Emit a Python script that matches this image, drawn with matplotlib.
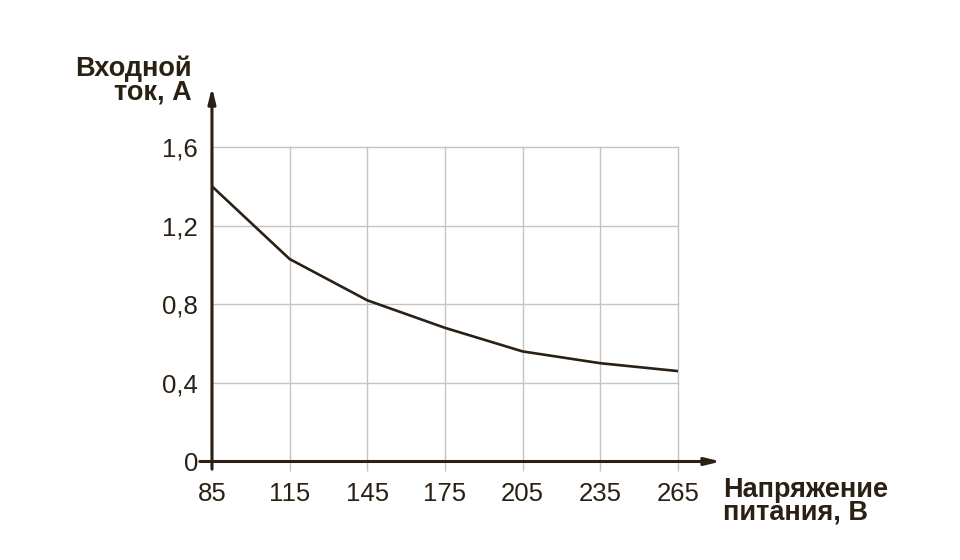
import matplotlib
matplotlib.use('Agg')
import matplotlib.pyplot as plt

# data
voltage = [85, 115, 145, 175, 205, 235, 265]
current = [1.40, 1.03, 0.82, 0.68, 0.56, 0.50, 0.46]
yticks = [0, 0.4, 0.8, 1.2, 1.6]
ytick_labels = ['0', '0,4', '0,8', '1,2', '1,6']
xlabel = 'Напряжение\nпитания, В'
ylabel = 'Входной\nток, А'

dark = '#2a2013'
grid_col = '#c4c4c4'
plt.rcParams['font.family'] = ['Liberation Sans', 'DejaVu Sans']

fig = plt.figure(figsize=(9.6, 5.6), dpi=100)
ax = fig.add_axes([0.2208, 0.1759, 0.4854, 0.5616])

ax.plot(voltage, current, color=dark, linewidth=1.9, solid_joinstyle='miter', zorder=3)

ax.set_xlim(voltage[0], voltage[-1])
ax.set_ylim(0, 1.6)
ax.set_xticks(voltage)
ax.set_xticklabels([str(v) for v in voltage])
ax.set_yticks(yticks)
ax.set_yticklabels(ytick_labels)
ax.grid(True, color=grid_col, linewidth=1.0)
ax.set_axisbelow(True)
for gl in ax.get_xgridlines() + ax.get_ygridlines():
    gl.set_clip_on(False)

for s in ax.spines.values():
    s.set_visible(False)

ax.tick_params(axis='x', length=7, width=1.0, color=grid_col, pad=8,
               labelsize=18.5, labelcolor=dark)
ax.tick_params(axis='y', length=0, pad=10, labelsize=18.5, labelcolor=dark)

# axes with arrows
ax.annotate('', xy=(1.092, 0), xytext=(-0.026, 0), xycoords='axes fraction',
            textcoords='axes fraction', annotation_clip=False,
            arrowprops=dict(arrowstyle='-|>,head_length=0.9,head_width=0.22',
                            color=dark, lw=2.2, shrinkA=0, shrinkB=0))
ax.annotate('', xy=(0, 1.19), xytext=(0, -0.024), xycoords='axes fraction',
            textcoords='axes fraction', annotation_clip=False,
            arrowprops=dict(arrowstyle='-|>,head_length=0.9,head_width=0.22',
                            color=dark, lw=2.2, shrinkA=0, shrinkB=0))

fig.text(723 / 960, 1 - 477 / 560, xlabel, ha='left', va='top', fontsize=19.5,
         fontweight='bold', color=dark, linespacing=0.85)
fig.text(192 / 960, 1 - 56 / 560, ylabel, ha='right', va='top', fontsize=19.5,
         fontweight='bold', color=dark, linespacing=0.85, multialignment='right')

plt.savefig('out.png', dpi=100)
